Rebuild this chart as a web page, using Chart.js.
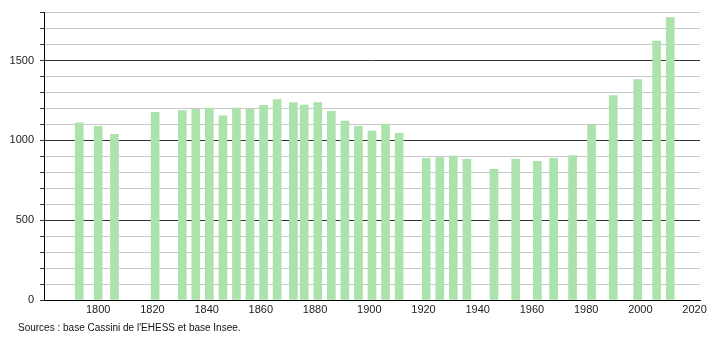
<!DOCTYPE html>
<html>
<head>
<meta charset="utf-8">
<script src="https://cdn.jsdelivr.net/npm/chart.js@4"></script>
<style>
  body { margin: 0; background: #fff; }
  #wrap { position: relative; width: 710px; height: 340px; }
  #source {
    position: absolute; left: 18px; top: 322px;
    font: 10px "Liberation Sans", Arial, sans-serif; color: #111;
  }
</style>
</head>
<body>
<div id="wrap">
  <canvas id="pop" width="710" height="340"></canvas>
  <div id="source">Sources : base Cassini de l'EHESS et base Insee.</div>
</div>
<script>
const years = [1793, 1800, 1806, 1821, 1831, 1836, 1841, 1846, 1851, 1856,
  1861, 1866, 1872, 1876, 1881, 1886, 1891, 1896, 1901, 1906,
  1911, 1921, 1926, 1931, 1936, 1946, 1954, 1962, 1968, 1975,
  1982, 1990, 1999, 2006, 2011];
const population = [1110, 1087, 1037, 1176, 1187, 1194, 1202, 1154, 1202, 1194,
  1219, 1256, 1237, 1221, 1237, 1181, 1121, 1087, 1058, 1102,
  1044, 887, 892, 902, 881, 819, 881, 869, 887, 904,
  1096, 1281, 1381, 1621, 1769];
const xTicks = [1800, 1820, 1840, 1860, 1880, 1900, 1920, 1940, 1960, 1980, 2000, 2020];
const yMajor = [0, 500, 1000, 1500];

const ctx = document.getElementById("pop").getContext("2d");

new Chart(ctx, {
  type: "bar",
  data: {
    datasets: [{
      data: years.map((y, i) => ({ x: y, y: population[i] })),
      backgroundColor: "#ace2ac",
      barThickness: 8
    }]
  },
  options: {
    responsive: false,
    animation: false,
    layout: { padding: { top: 10, right: 10, left: 0, bottom: 0 } },
    plugins: { legend: { display: false }, tooltip: { enabled: false } },
    scales: {
      x: {
        type: "linear",
        offset: false,
        min: 1780,
        max: 2022,
        afterFit: s => { s.height = 40; },
        afterBuildTicks: s => { s.ticks = xTicks.map(v => ({ value: v })); },
        grid: { display: false, drawTicks: false, offset: false },
        border: { color: "#000", width: 1 },
        ticks: {
          autoSkip: false,
          maxRotation: 0,
          padding: 3,
          color: "#222",
          font: { family: "Liberation Sans", size: 11 },
          callback: v => String(v)
        }
      },
      y: {
        min: 0,
        max: 1800,
        afterFit: s => { s.width = 44; },
        border: { color: "#000", width: 1 },
        grid: {
          color: c => yMajor.includes(c.tick.value) ? "#333" : "#c8c8c8",
          tickColor: "#333",
          tickLength: 4
        },
        ticks: {
          stepSize: 100,
          autoSkip: false,
          padding: 6,
          color: "#222",
          font: { family: "Liberation Sans", size: 11 },
          callback: v => yMajor.includes(v) ? String(v) : ""
        }
      }
    }
  }
});
</script>
</body>
</html>
